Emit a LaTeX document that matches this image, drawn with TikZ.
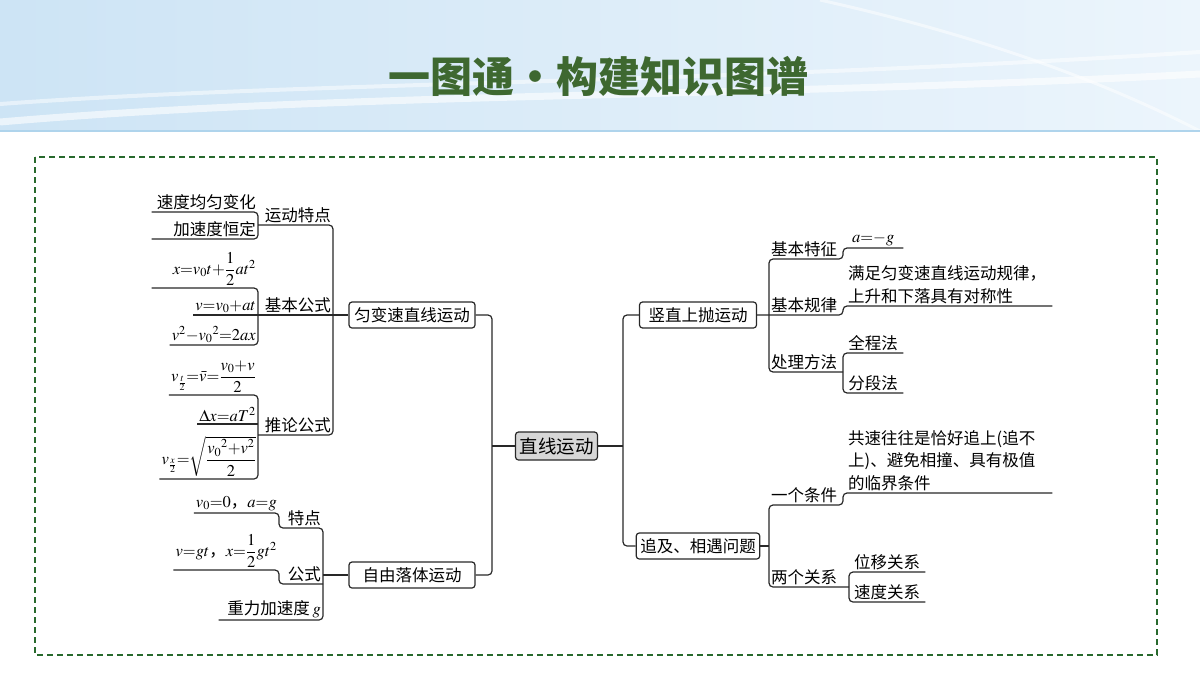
\documentclass[tikz,border=0pt]{standalone}
\usepackage{amsmath}
\usepackage{mathptmx}
\usepackage[no-math]{fontspec}
\setmainfont{Noto Sans CJK SC}
\usepackage{tikz}
\usetikzlibrary{positioning}
\definecolor{framegreen}{RGB}{40,105,45}
\definecolor{titlegreen}{RGB}{62,104,48}
\definecolor{linegray}{RGB}{40,40,40}
\definecolor{hubgray}{RGB}{215,215,215}
\definecolor{skyA}{RGB}{205,228,245}
\definecolor{skyB}{RGB}{236,245,252}
\definecolor{skyline}{RGB}{175,212,236}
\newcommand{\mapfont}{\fontsize{16.5}{22.5}\selectfont}
\tikzstyle{topic} = [rectangle, rounded corners=3pt, draw=linegray, line width=1.2pt, fill=white, minimum width=126pt, minimum height=26pt, inner xsep=4pt, font=\mapfont]
\tikzstyle{hub} = [topic, fill=hubgray, minimum width=81pt, minimum height=28pt, font=\fontsize{18.5}{22}\selectfont]
\tikzstyle{lleaf} = [anchor=south east, inner xsep=2pt, inner ysep=2pt, align=right, font=\mapfont]
\tikzstyle{rleaf} = [anchor=south west, inner xsep=2pt, inner ysep=2pt, align=left, font=\mapfont]
\tikzstyle{link} = [draw=linegray, line width=1.2pt, rounded corners=4pt]
\begin{document}
\begin{tikzpicture}[x=1pt, y=-1pt]
\useasboundingbox (0,0) rectangle (1200,675);
\shade[left color=skyA, right color=skyB] (0,0) rectangle (1200,131);
\draw[white, opacity=0.6, line width=7pt] (0,122) .. controls (350,92) and (750,98) .. (1200,74);
\draw[white, opacity=0.5, line width=4pt] (0,104) .. controls (300,82) and (700,84) .. (1200,52);
\draw[white, opacity=0.5, line width=3pt] (820,0) .. controls (1000,40) and (1120,90) .. (1200,131);
\draw[skyline, line width=1.5pt] (0,131) -- (1200,131);
\node[font=\fontsize{42}{46}\selectfont\bfseries, text=titlegreen] (title) at (598,76) {一图通・构建知识图谱};
\draw[framegreen, line width=1.3pt, dash pattern=on 6pt off 4pt] (35,157) rectangle (1157,655);

\node[hub] (root) at (556.5,446) {直线运动};
\node[topic] (ybs) at (412,315) {匀变速直线运动};
\node[topic] (zy) at (412,575) {自由落体运动};
\node[topic, minimum width=117pt] (sz) at (698,315) {竖直上抛运动};
\node[topic, minimum width=117pt] (zj) at (698,546) {追及、相遇问题};
\coordinate (jL) at (492,446);
\coordinate (jR) at (623,446);

\node[lleaf] (yd) at (333,225) {运动特点};
\node[lleaf] (gs) at (333,315) {基本公式};
\node[lleaf] (tl) at (333,435) {推论公式};
\node[lleaf, text width=102pt] (yd1) at (258,212) {速度均匀变化};
\node[lleaf, text width=102pt] (yd2) at (258,239) {加速度恒定};
\node[lleaf, text width=102pt] (gs1) at (258,288) {$x{=}v_0t{+}\dfrac{1}{2}at^2$};
\node[lleaf] (gs2) at (258,315) {$v{=}v_0{+}at$};
\node[lleaf] (gs3) at (258,345) {$v^2{-}{v_0}^2{=}2ax$};
\node[lleaf] (tl1) at (258,395) {$v_{\frac{t}{2}}{=}\bar{v}{=}\dfrac{v_0{+}v}{2}$};
\node[lleaf] (tl2) at (258,424) {$\Delta x{=}aT^2$};
\node[lleaf] (tl3) at (258,479) {$v_{\frac{x}{2}}{=}\sqrt{\dfrac{{v_0}^2{+}v^2}{2}}$};

\node[lleaf] (td) at (323,528) {特点};
\node[lleaf] (gsb) at (323,584) {公式};
\node[lleaf, text width=100pt] (zl) at (323,620) {重力加速度\,$g$};
\node[lleaf] (td1) at (279,513) {$v_0{=}0$，$a{=}g$};
\node[lleaf] (gsb1) at (279,570) {$v{=}gt$，$x{=}\dfrac{1}{2}gt^2$};

\node[rleaf] (r1) at (769,259) {基本特征};
\node[rleaf] (r2) at (769,315) {基本规律};
\node[rleaf] (r3) at (769,372) {处理方法};
\node[rleaf, minimum width=60pt, align=center] (r1a) at (843,248) {$a{=}{-}g$};
\node[rleaf, text width=199pt, inner xsep=5pt] (r2a) at (843,306) {满足匀变速直线运动规律，\\上升和下落具有对称性};
\node[rleaf, minimum width=60pt] (r3a) at (843,353) {全程法};
\node[rleaf, minimum width=60pt] (r3b) at (843,393) {分段法};
\node[rleaf] (s1) at (769,505) {一个条件};
\node[rleaf] (s2) at (769,587) {两个关系};
\node[rleaf, text width=199pt, inner xsep=5pt] (s1a) at (843,493) {共速往往是恰好追上(追不\\上)、避免相撞、具有极值\\的临界条件};
\node[rleaf, minimum width=76pt] (s2a) at (849,572) {位移关系};
\node[rleaf, minimum width=76pt] (s2b) at (849,602) {速度关系};

\draw[link] (root.west) -- (root.west -| jL);
\draw[link] (ybs.east) -- (ybs.east -| jL) -- (zy.east -| jL) -- (zy.east);
\draw[link] (root.east) -- (root.east -| jR);
\draw[link] (sz.west) -- (sz.west -| jR) -- (zj.west -| jR) -- (zj.west);

\draw[link] (yd.south -| yd1.south east) -- (yd.south east) -- (tl.south east) -- (tl.south -| tl1.south east);
\draw[link] (gs2.south west) -- (ybs.west);
\draw[link] (yd1.south west) -- (yd1.south east) -- (yd2.south east) -- (yd2.south west);
\draw[link] (gs1.south west) -- (gs1.south east) -- (gs3.south east) -- (gs3.south west);
\draw[link] (tl1.south west) -- (tl1.south east) -- (tl3.south east) -- (tl3.south west);
\draw[link] (tl2.south west) -- (tl2.south east);

\draw[link] (td1.south west) -- (td1.south east) -- (td1.south east |- td.south) -- (td.south east) -- (zl.south east) -- (zl.south west);
\draw[link] (gsb1.south west) -- (gsb1.south east) -- (gsb1.south east |- gsb.south) -- (gsb.south east);
\draw[link] (zy.west) -- (zy.west -| td.south east);

\draw[link] (r1a.south east) -- (r1a.south west) -- (r1a.south west |- r1.south) -- (r1.south west) -- (r3.south west) -- (r3.south -| r3a.south west);
\draw[link] (sz.east) -- (r2.south west) -- (r2.south -| r2a.south west) -- (r2a.south west) -- (r2a.south east);
\draw[link] (r3a.south east) -- (r3a.south west) -- (r3b.south west) -- (r3b.south east);
\draw[link] (s1a.south east) -- (s1a.south west) -- (s1a.south west |- s1.south) -- (s1.south west) -- (s2.south west) -- (s2.south -| s2a.south west);
\draw[link] (zj.east) -- (zj.east -| s1.south west);
\draw[link] (s2a.south east) -- (s2a.south west) -- (s2b.south west) -- (s2b.south east);
\end{tikzpicture}
\end{document}
